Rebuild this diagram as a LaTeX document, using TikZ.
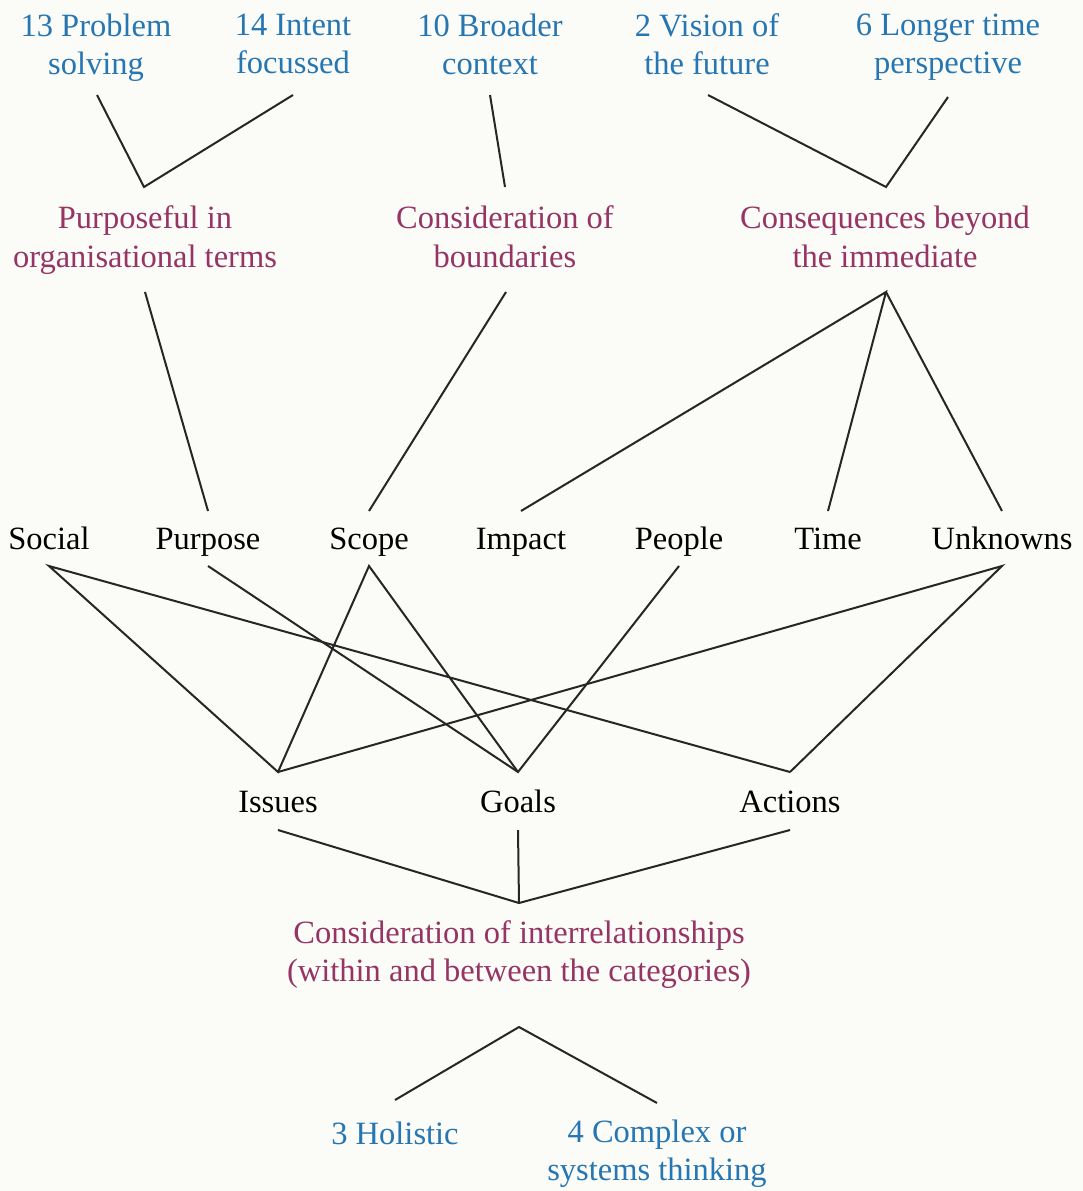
\documentclass[tikz,border=0pt]{standalone}
\usepackage{fontspec}
\setmainfont{Liberation Serif}
\definecolor{catblue}{RGB}{38,118,178}
\definecolor{catpurple}{RGB}{150,52,100}
\definecolor{paper}{RGB}{251,251,248}
\begin{document}
\begin{tikzpicture}[x=1pt,y=-1pt,
  lbl/.style={inner sep=0pt, outer sep=0pt, align=center,
              font=\fontsize{32.5}{38}\selectfont,
              execute at begin node={\rule{0pt}{0.75em}}},
  theme/.style={lbl, text=catblue},
  quality/.style={lbl, text=catpurple},
  category/.style={lbl, text=black},
  link/.style={draw=black!85, line width=2pt, line join=miter}]

% page
\fill[paper] (0,0) rectangle (1083,1191);
\useasboundingbox (0,0) rectangle (1083,1191);

% ---- top row: numbered themes (multi-line, placed by their top edge)
\node[theme, anchor=north] (n13) at (96,14.1)  {13 Problem\\solving};
\node[theme, anchor=north] (n14) at (293,14.1) {14 Intent\\focussed};
\node[theme, anchor=north] (n10) at (490,14.1) {10 Broader\\context};
\node[theme, anchor=north] (n2)  at (707,14.1) {2 Vision of\\the future};
\node[theme, anchor=north] (n6)  at (948,14.1) {6 Longer time\\perspective};

% ---- second row: qualities
\begin{scope}[lbl/.append style={font=\fontsize{32.5}{39}\selectfont}]
\node[quality, anchor=north] (purp)   at (145,206.1) {Purposeful in\\organisational terms};
\node[quality, anchor=north] (bound)  at (505,206.1) {Consideration of\\boundaries};
\node[quality, anchor=north] (conseq) at (885,206.1) {Consequences beyond\\the immediate};
\end{scope}

% ---- third row: categories (placed on their baseline)
\node[category, anchor=base] (social)   at (49,549)   {Social};
\node[category, anchor=base] (purpose)  at (208,549)  {Purpose};
\node[category, anchor=base] (scope)    at (369,549)  {Scope};
\node[category, anchor=base] (impact)   at (521,549)  {Impact};
\node[category, anchor=base] (people)   at (679,549)  {People};
\node[category, anchor=base] (time)     at (828,549)  {Time};
\node[category, anchor=base] (unknowns) at (1002,549) {Unknowns};

% ---- fourth row
\node[category, anchor=base] (issues)  at (278,812) {Issues};
\node[category, anchor=base] (goals)   at (518,812) {Goals};
\node[category, anchor=base] (actions) at (790,812) {Actions};

% ---- interrelationships
\node[quality, anchor=north] (inter) at (519,921.1)
  {Consideration of interrelationships\\(within and between the categories)};

% ---- bottom row
\node[theme, anchor=base]  (hol)  at (395,1144)   {3 Holistic};
\node[theme, anchor=north] (comp) at (657,1120.1) {4 Complex or\\systems thinking};

% ---- connector end points
\coordinate (n13b) at ([xshift=1pt,yshift=-80.9pt]n13.north);
\coordinate (n14b) at ([yshift=-80.9pt]n14.north);
\coordinate (n10b) at ([yshift=-80.9pt]n10.north);
\coordinate (n2b)  at ([xshift=1pt,yshift=-80.9pt]n2.north);
\coordinate (n6b)  at ([yshift=-82.9pt]n6.north);

\coordinate (purpT)   at ([xshift=-1pt,yshift=19.1pt]purp.north);
\coordinate (boundT)  at ([yshift=19.1pt]bound.north);
\coordinate (conseqT) at ([xshift=1pt,yshift=19.1pt]conseq.north);
\coordinate (purpB)   at ([yshift=-85.9pt]purp.north);
\coordinate (boundB)  at ([xshift=1pt,yshift=-85.9pt]bound.north);
\coordinate (conseqB) at ([xshift=1pt,yshift=-85.9pt]conseq.north);

\foreach \n in {purpose,scope,impact,time,unknowns}
  \coordinate (\n T) at ([yshift=38pt]\n.base);
\foreach \n in {social,purpose,scope,people,unknowns}
  \coordinate (\n B) at ([yshift=-17pt]\n.base);

\foreach \n in {issues,goals,actions}{
  \coordinate (\n T) at ([yshift=40pt]\n.base);
  \coordinate (\n B) at ([yshift=-18pt]\n.base);
}

\coordinate (interT) at ([yshift=18.1pt]inter.north);
\coordinate (interB) at ([yshift=-105.9pt]inter.north);
\coordinate (holT)   at ([yshift=44pt]hol.base);
\coordinate (compT)  at ([yshift=17.1pt]comp.north);

% ---- connectors
\draw[link] (n13b) -- (purpT) -- (n14b);
\draw[link] (n10b) -- (boundT);
\draw[link] (n2b) -- (conseqT) -- (n6b);

\draw[link] (purpB) -- (purposeT);
\draw[link] (boundB) -- (scopeT);
\draw[link] (impactT) -- (conseqB) -- (timeT);
\draw[link] (conseqB) -- (unknownsT);

\draw[link] (actionsT) -- (socialB) -- (issuesT) -- (scopeB) -- (goalsT);
\draw[link] (purposeB) -- (goalsT) -- (peopleB);
\draw[link] (issuesT) -- (unknownsB) -- (actionsT);

\draw[link] (issuesB) -- (interT) -- (actionsB);
\draw[link] (goalsB) -- (interT);

\draw[link] (holT) -- (interB) -- (compT);
\end{tikzpicture}
\end{document}
